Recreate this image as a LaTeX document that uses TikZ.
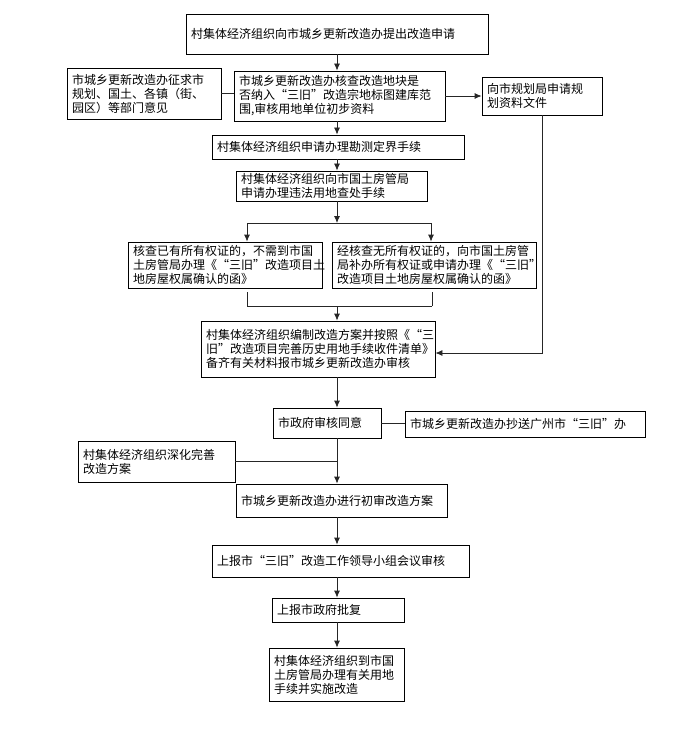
\documentclass[tikz,border=0pt]{standalone}
\usepackage{fontspec}
\setmainfont{Noto Sans CJK SC}
\usetikzlibrary{arrows.meta,calc}

\begin{document}
\begin{tikzpicture}[x=1pt,y=-1pt]
\tikzstyle{every node}=[font=\fontsize{12}{14}\selectfont]
\tikzstyle{flowbox}=[draw, line width=0.8pt, align=left, inner xsep=5pt, inner ysep=2pt]
\tikzstyle{link}=[line width=0.8pt, black!85]
\tikzstyle{arrow}=[link, -{Latex[length=7pt,width=6pt]}]

	\useasboundingbox (0,0) rectangle (691,730);
	\coordinate (axis) at (337,0);

	% main column
	\node[flowbox, text width=292pt, minimum height=40pt] (apply) at (337,34)
		{村集体经济组织向市城乡更新改造办提出改造申请};
	\node[flowbox, text width=201pt, minimum height=50pt] (check) at (339.5,96)
		{市城乡更新改造办核查改造地块是\\否纳入“三旧”改造宗地标图建库范\\围,审核用地单位初步资料};
	\node[flowbox, text width=144pt, minimum height=51pt] (consult) at (144,93.5)
		{市城乡更新改造办征求市\\规划、国土、各镇（街、\\园区）等部门意见};
	\node[flowbox, text width=110pt, minimum height=38pt] (plan) at (542,96)
		{向市规划局申请规\\划资料文件};
	\node[flowbox, text width=242pt, minimum height=24pt] (survey) at (338,147)
		{村集体经济组织申请办理勘测定界手续};
	\node[flowbox, text width=181pt, minimum height=30pt] (illegal) at (331.5,186)
		{村集体经济组织向市国土房管局\\申请办理违法用地查处手续};

	% two cases
	\node[flowbox, text width=184pt, minimum height=46pt] (haveL) at (225,265)
		{核查已有所有权证的，不需到市国\\土房管局办理《“三旧”改造项目土\\地房屋权属确认的函》};
	\node[flowbox, text width=194pt, minimum height=46pt] (noneR) at (434,265)
		{经核查无所有权证的，向市国土房管\\局补办所有权证或申请办理《“三旧”\\改造项目土地房屋权属确认的函》};

	\node[flowbox, text width=224pt, minimum height=56pt] (compile) at (318,349)
		{村集体经济组织编制改造方案并按照《“三\\旧”改造项目完善历史用地手续收件清单》\\备齐有关材料报市城乡更新改造办审核};
	\node[flowbox, text width=98pt, minimum height=30pt] (approve) at (327,423)
		{市政府审核同意};
	\node[flowbox, text width=230pt, minimum height=26pt] (copy) at (525,424)
		{市城乡更新改造办抄送广州市“三旧”办};
	\node[flowbox, text width=147pt, minimum height=41pt] (refine) at (156.5,461.5)
		{村集体经济组织深化完善\\改造方案};
	\node[flowbox, text width=201pt, minimum height=33pt] (review) at (341.5,500.5)
		{市城乡更新改造办进行初审改造方案};
	\node[flowbox, text width=247pt, minimum height=32pt] (group) at (340.5,561)
		{上报市“三旧”改造工作领导小组会议审核};
	\node[flowbox, text width=122pt, minimum height=24pt] (reply) at (338,610)
		{上报市政府批复};
	\node[flowbox, text width=125pt, minimum height=53pt] (implement) at (336.5,674.5)
		{村集体经济组织到市国\\土房管局办理有关用地\\手续并实施改造};

	\coordinate (fork) at (337,223);
	\coordinate (forkL) at (247,223);
	\coordinate (forkR) at (431,223);
	\coordinate (join) at (337,306);
	\coordinate (joinL) at (247,306);
	\coordinate (joinR) at (432,306);

	% connectors
	\draw[arrow] (apply.south -| axis) -- (check.north -| axis);
	\draw[link] (consult.east) -- (consult.east -| check.west);
	\draw[arrow] (check.east) -- (check.east -| plan.west);
	\draw[arrow] (check.south -| axis) -- (survey.north -| axis);
	\draw[arrow] (survey.south -| axis) -- (illegal.north -| axis);
	\draw[arrow] (illegal.south -| axis) -- (fork);
	\draw[link] (forkL) -- (forkR);
	\draw[arrow] (forkL) -- (forkL |- haveL.north);
	\draw[arrow] (forkR) -- (forkR |- noneR.north);
	\draw[link, shorten <=4pt] (haveL.south -| joinL) -- (joinL) -- (joinR);
	\draw[link, shorten >=4pt] (joinR) -- (noneR.south -| joinR);
	\draw[arrow] (join) -- (compile.north -| axis);
	\draw[arrow] (plan.south) |- ([yshift=-4pt]compile.east);
	\draw[arrow] (compile.south -| axis) -- (approve.north -| axis);
	\draw[link] (approve.east) -- (approve.east -| copy.west);
	\draw[arrow] (approve.south -| axis) -- (review.north -| axis);
	\draw[link] (refine.east) -- (refine.east -| axis);
	\draw[arrow] (review.south -| axis) -- (group.north -| axis);
	\draw[arrow] (group.south -| axis) -- (reply.north -| axis);
	\draw[arrow] (reply.south -| axis) -- (implement.north -| axis);
\end{tikzpicture}
\end{document}
